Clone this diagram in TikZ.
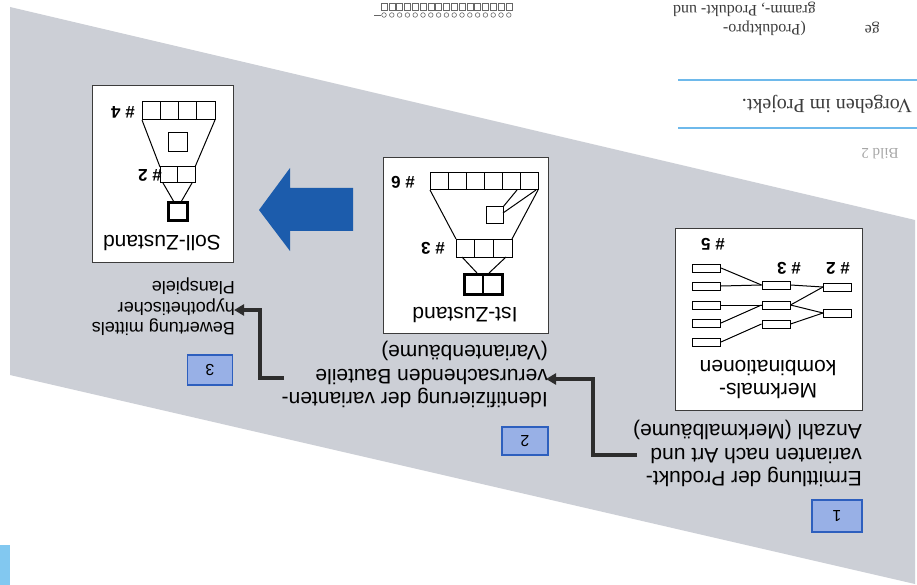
\documentclass[tikz,border=0pt]{standalone}
\usepackage{fontspec}
\setmainfont{Liberation Sans}
\newfontfamily\serifA{Liberation Serif}
\usetikzlibrary{arrows.meta}
\definecolor{bggray}{RGB}{204,207,214}
\definecolor{stepfill}{RGB}{152,176,230}
\definecolor{stepdraw}{RGB}{45,95,190}
\definecolor{bigblue}{RGB}{28,92,172}
\definecolor{conn}{RGB}{45,45,45}
\definecolor{rulecol}{RGB}{110,185,235}
\definecolor{stripblue}{RGB}{130,200,240}
\definecolor{inkgray}{RGB}{60,60,60}
\begin{document}
\begin{tikzpicture}[x=1pt,y=-1pt,
  txt/.style={rotate=180,inner sep=0pt,font=\fontsize{21}{23.5}\selectfont,align=left,anchor=north west},
  txtsmall/.style={rotate=180,inner sep=0pt,font=\fontsize{18}{20.5}\selectfont,align=left,anchor=north west},
  panel/.style={draw=inkgray,line width=0.8pt,fill=white,inner sep=0pt},
  paneltext/.style={rotate=180,inner sep=0pt,font=\fontsize{21}{23}\selectfont,align=center},
  numlab/.style={rotate=180,inner sep=0pt,font=\fontsize{17}{17}\selectfont\bfseries},
  stepbox/.style={draw=stepdraw,line width=1.2pt,fill=stepfill,inner sep=0pt,rotate=180,font=\fontsize{16}{16}\selectfont},
  mb/.style={draw=black,line width=1pt,minimum width=28pt,minimum height=8pt,inner sep=0pt},
  fl/.style={draw=black,line width=1pt},
  thick box/.style={draw=black,line width=3pt},
  conline/.style={draw=conn,line width=3.5pt,-{Triangle[length=10pt,width=11pt]}},
  pagetxt/.style={rotate=180,anchor=west,inner sep=0pt,font=\serifA\fontsize{16}{16}\selectfont,text=inkgray},
]
\useasboundingbox (0,0) rectangle (917,585);
\fill[white] (0,0) rectangle (917,585);
% gray band
\fill[bggray] (10,7) -- (915,220) -- (915,584) -- (10,375) -- cycle;
% light blue strip bottom left
\fill[stripblue] (0,545) rectangle (10,585);

% top-right page elements
\draw[rulecol,line width=1.6pt] (678,80) -- (917,80);
\draw[rulecol,line width=1.6pt] (678,128) -- (917,128);
\node[rotate=180,anchor=west,inner sep=0pt,font=\serifA\fontsize{20}{20}\selectfont,text=inkgray] (cap) at (912,104) {Vorgehen im Projekt.};
\node[rotate=180,anchor=center,inner sep=0pt,font=\serifA\fontsize{15}{15}\selectfont,text=gray!70] (bild) at (880,154) {Bild 2};
\node[pagetxt] (p1) at (806,28) {(Produktpro-};
\node[pagetxt] (p2) at (880,28) {ge};
\node[pagetxt] (p3) at (816,9) {gramm-, Produkt- und};

% comb graphic at top
\foreach \i in {0,...,16}{
  \draw[gray!80!black,line width=0.6pt] ({381+\i*7.8},3) rectangle ({387+\i*7.8},10);
  \draw[gray!80!black,line width=0.6pt] ({384+\i*7.8},15) circle (2.3pt);
}
\draw[gray!80!black,line width=0.8pt] (374,15) -- (381,15);

% ---------- Panel A : Merkmalskombinationen
\node[panel,minimum width=187pt,minimum height=182pt] (boxA) at (768.5,319) {};
\node[paneltext] (boxAtxt) at (768,380) {Merkmals-\\kombinationen};
\node[numlab] (n5) at (713,244) {\# 5};
\node[numlab] (n3a) at (789,268) {\# 3};
\node[numlab] (n2a) at (838,268) {\# 2};
\foreach \n/\y in {1/268,2/286,3/305,4/323,5/342}{\node[mb] (L\n) at (706.5,\y) {};}
\foreach \n/\y in {1/285,2/305,3/324}{\node[mb] (M\n) at (776,\y) {};}
\foreach \n/\y in {1/287,2/313}{\node[mb] (R\n) at (837.5,\y) {};}
\draw[fl] (L1.east) -- (M1.west);
\draw[fl] (L2.east) -- (M1.west);
\draw[fl] (L3.east) -- (M2.west);
\draw[fl] (L4.east) -- (M2.west);
\draw[fl] (L5.east) -- (M3.west);
\draw[fl] (M1.east) -- (R1.west);
\draw[fl] (M2.east) -- (R1.west);
\draw[fl] (M2.east) -- (R2.west);
\draw[fl] (M3.east) -- (R2.west);

% ---------- Panel B : Ist-Zustand
\node[panel,minimum width=165pt,minimum height=176pt] (boxB) at (465.5,245) {};
\node[paneltext] (boxBtxt) at (465,315) {Ist-Zustand};
\node[numlab] (n6) at (403,182) {\# 6};
\node[numlab] (n3b) at (433,248) {\# 3};
\draw[fl] (430,173) rectangle (538,190);
\foreach \x in {448,466,484,502,520}{\draw[fl] (\x,173) -- (\x,190);}
\draw[fl] (430,190) -- (456,239);
\draw[fl] (538,190) -- (512,239);
\draw[fl] (486,207) rectangle (503,224);
\draw[fl] (503,207) -- (517,190);
\draw[fl] (503,213) -- (536,190);
\draw[fl] (456,239) rectangle (512,257);
\draw[fl] (474.7,239) -- (474.7,257);
\draw[fl] (493.3,239) -- (493.3,257);
\draw[fl] (462,257) -- (477,273);
\draw[fl] (506,257) -- (489,273);
\draw[thick box] (464,274) rectangle (502,294);
\draw[line width=2.5pt] (483,274) -- (483,294);

% ---------- Panel C : Soll-Zustand
\node[panel,minimum width=141pt,minimum height=177pt] (boxC) at (162.5,173.5) {};
\node[paneltext] (boxCtxt) at (162,243) {Soll-Zustand};
\node[numlab] (n4) at (123,112) {\# 4};
\node[numlab] (n2c) at (150,175) {\# 2};
\draw[fl] (142,102) rectangle (215,120);
\foreach \x in {160.25,178.5,196.75}{\draw[fl] (\x,102) -- (\x,120);}
\draw[fl] (142,120) -- (160,167);
\draw[fl] (215,120) -- (195,167);
\draw[fl] (168,133) rectangle (187,152);
\draw[fl] (160,167) rectangle (195,183);
\draw[fl] (177.5,167) -- (177.5,183);
\draw[fl] (163,183) -- (174,202);
\draw[fl] (192,183) -- (181,202);
\draw[thick box] (168,203) rectangle (187,221);

% ---------- big blue arrow
\fill[bigblue] (259,210) -- (290,168) -- (290,188) -- (353,188) -- (353,231) -- (290,231) -- (290,251) -- cycle;

% ---------- step boxes
\node[stepbox,minimum width=50pt,minimum height=32pt] (s1) at (837,516) {1};
\node[stepbox,minimum width=46pt,minimum height=28pt] (s2) at (525,441) {2};
\node[stepbox,minimum width=45pt,minimum height=30pt] (s3) at (210,370) {3};

% ---------- step texts
\node[txt] (t1) at (862,487) {Ermittlung der Produkt-\\varianten nach Art und\\Anzahl (Merkmalbäume)};
\node[txt] (t2) at (548,408) {Identifizierung der varianten-\\verursachenden Bauteile\\(Variantenbäume)};
\node[txtsmall] (t3) at (235,336) {Bewertung mittels\\hypothetischer\\Planspiele};

% ---------- connectors
\coordinate (c1a) at (637,455);
\coordinate (c1b) at (546,379);
\coordinate (c2a) at (284,378);
\coordinate (c2b) at (234,310);
\draw[conline] (c1a) -| (593,379) -- (c1b);
\draw[conline] (c2a) -| (260,310) -- (c2b);
\end{tikzpicture}
\end{document}
